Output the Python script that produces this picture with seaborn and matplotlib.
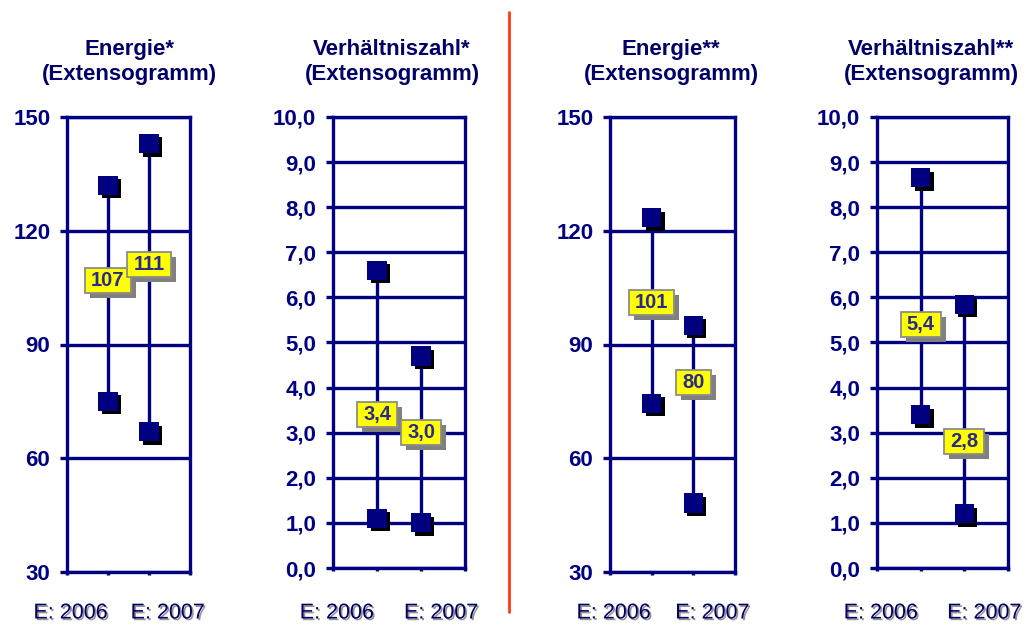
import matplotlib
matplotlib.use("Agg")
import matplotlib.pyplot as plt
import matplotlib.patheffects as pe
from matplotlib.patches import Rectangle
from matplotlib.lines import Line2D
from matplotlib.transforms import ScaledTranslation
from matplotlib.ticker import FuncFormatter, MultipleLocator
import pandas as pd
import seaborn as sns

# --- data -------------------------------------------------------------
jahre = ["E: 2006", "E: 2007"]
titel = ["Energie*\n(Extensogramm)", "Verhältniszahl*\n(Extensogramm)",
         "Energie**\n(Extensogramm)", "Verhältniszahl**\n(Extensogramm)"]
maximum = [[132, 143], [6.6, 4.7], [123.4, 95.1], [8.65, 5.85]]
minimum = [[75, 67], [1.1, 1.0], [74.5, 48.2], [3.4, 1.2]]
mittelwert = [[107, 111], [3.4, 3.0], [101, 80], [5.4, 2.8]]
y_bereich = [(30, 150), (0, 10), (30, 150), (0, 10)]
y_schritt = [30, 1, 30, 1]
dezimalen = [0, 1, 0, 1]

# --- style ------------------------------------------------------------
sns.set_style("white")
plt.rcParams["font.family"] = ["Liberation Sans", "DejaVu Sans"]

NAVY = "#000080"
TEXT_NAVY = "#000066"
LABEL_NAVY = "#2A2A8C"
W, H = 1027, 625

fig = plt.figure(figsize=(W / 100, H / 100), dpi=100)

# axes frames in pixels: left, top, right, bottom
rahmen = [(67, 117, 190, 572), (333, 117, 465, 568),
          (610, 117, 735, 572), (877, 117, 1008, 568)]
titel_x = [129, 392, 671, 931]


def fmt(v, d):
    return f"{v:.{d}f}".replace(".", ",")


texte = []
for i in range(4):
    l, t, r, b = rahmen[i]
    ax = fig.add_axes([l / W, 1 - b / H, (r - l) / W, (b - t) / H])

    df = pd.DataFrame({
        "Jahr": jahre * 2,
        "pos": [1, 2, 1, 2],
        "Wert": maximum[i] + minimum[i],
    })

    sns.lineplot(data=df, x="pos", y="Wert", units="Jahr", estimator=None,
                 sort=False, color=NAVY, lw=2.4, ax=ax, legend=False, zorder=3)
    sns.scatterplot(data=df, x="pos", y="Wert", marker="s", s=190,
                    color=NAVY, edgecolor=NAVY, linewidth=0, ax=ax,
                    legend=False, zorder=4)
    ax.collections[-1].set_path_effects([
        pe.SimplePatchShadow(offset=(2.5, -2.5), shadow_rgbFace="black", alpha=1.0),
        pe.Normal(),
    ])

    lo, hi = y_bereich[i]
    ax.set_xlim(0, 3)
    ax.set_ylim(lo, hi)
    ax.yaxis.set_major_locator(MultipleLocator(y_schritt[i]))
    d = dezimalen[i]
    ax.yaxis.set_major_formatter(FuncFormatter(lambda v, p, d=d: fmt(v, d)))
    ax.set_xticks([0, 1, 2, 3])
    ax.set_xticklabels([])
    ax.set_xlabel("")
    ax.set_ylabel("")

    ax.set_axisbelow(True)
    ax.yaxis.grid(True, color=NAVY, lw=2.4)
    ax.xaxis.grid(False)
    for s in ax.spines.values():
        s.set_color(NAVY)
        s.set_linewidth(2.4)
        s.set_visible(True)

    ax.tick_params(axis="y", length=5, width=2.4, color=NAVY, pad=7,
                   labelsize=16, labelcolor=NAVY, left=True)
    for lab in ax.get_yticklabels():
        lab.set_fontweight("bold")
    ax.tick_params(axis="x", length=2.5, width=2.4, color=NAVY, bottom=True)

    # title above each frame
    fig.text(titel_x[i] / W, 1 - 62 / H, titel[i], ha="center", va="center",
             fontsize=16, fontweight="bold", color=TEXT_NAVY, linespacing=1.25)

    # year labels under each frame
    for j, frac in enumerate([0.03, 0.82]):
        fig.text((l + frac * (r - l)) / W, 1 - 613 / H, jahre[j],
                 ha="center", va="center", fontsize=15.5, color=TEXT_NAVY,
                 path_effects=[pe.SimplePatchShadow(offset=(1.2, -1.2),
                                                    shadow_rgbFace="#888888",
                                                    alpha=0.9),
                               pe.Normal()])

    # value labels on the range lines
    for j in range(2):
        txt = ax.text(j + 1, mittelwert[i][j], fmt(mittelwert[i][j], d),
                      ha="center", va="center", fontsize=14.5,
                      fontweight="bold", color=LABEL_NAVY, zorder=8)
        texte.append((ax, j + 1, mittelwert[i][j], txt))

# yellow boxes sized to their text
fig.canvas.draw()
renderer = fig.canvas.get_renderer()
for ax, x, y, txt in texte:
    wb = txt.get_window_extent(renderer).width / 100 + 0.12
    hb = 0.25
    trans = fig.dpi_scale_trans + ScaledTranslation(x, y, ax.transData)
    ax.add_patch(Rectangle((-wb / 2 + 0.05, -hb / 2 - 0.05), wb, hb,
                           transform=trans, facecolor="#808080",
                           edgecolor="none", zorder=6, clip_on=False))
    ax.add_patch(Rectangle((-wb / 2, -hb / 2), wb, hb, transform=trans,
                           facecolor="#FFFF00", edgecolor="#8C8C8C", lw=1.3,
                           zorder=7, clip_on=False))

# red divider between the two groups
fig.add_artist(Line2D([509 / W, 509 / W], [1 - 12 / H, 1 - 612 / H],
                      transform=fig.transFigure, color="#FF3A10", lw=2))

fig.savefig("out.png", dpi=100)
